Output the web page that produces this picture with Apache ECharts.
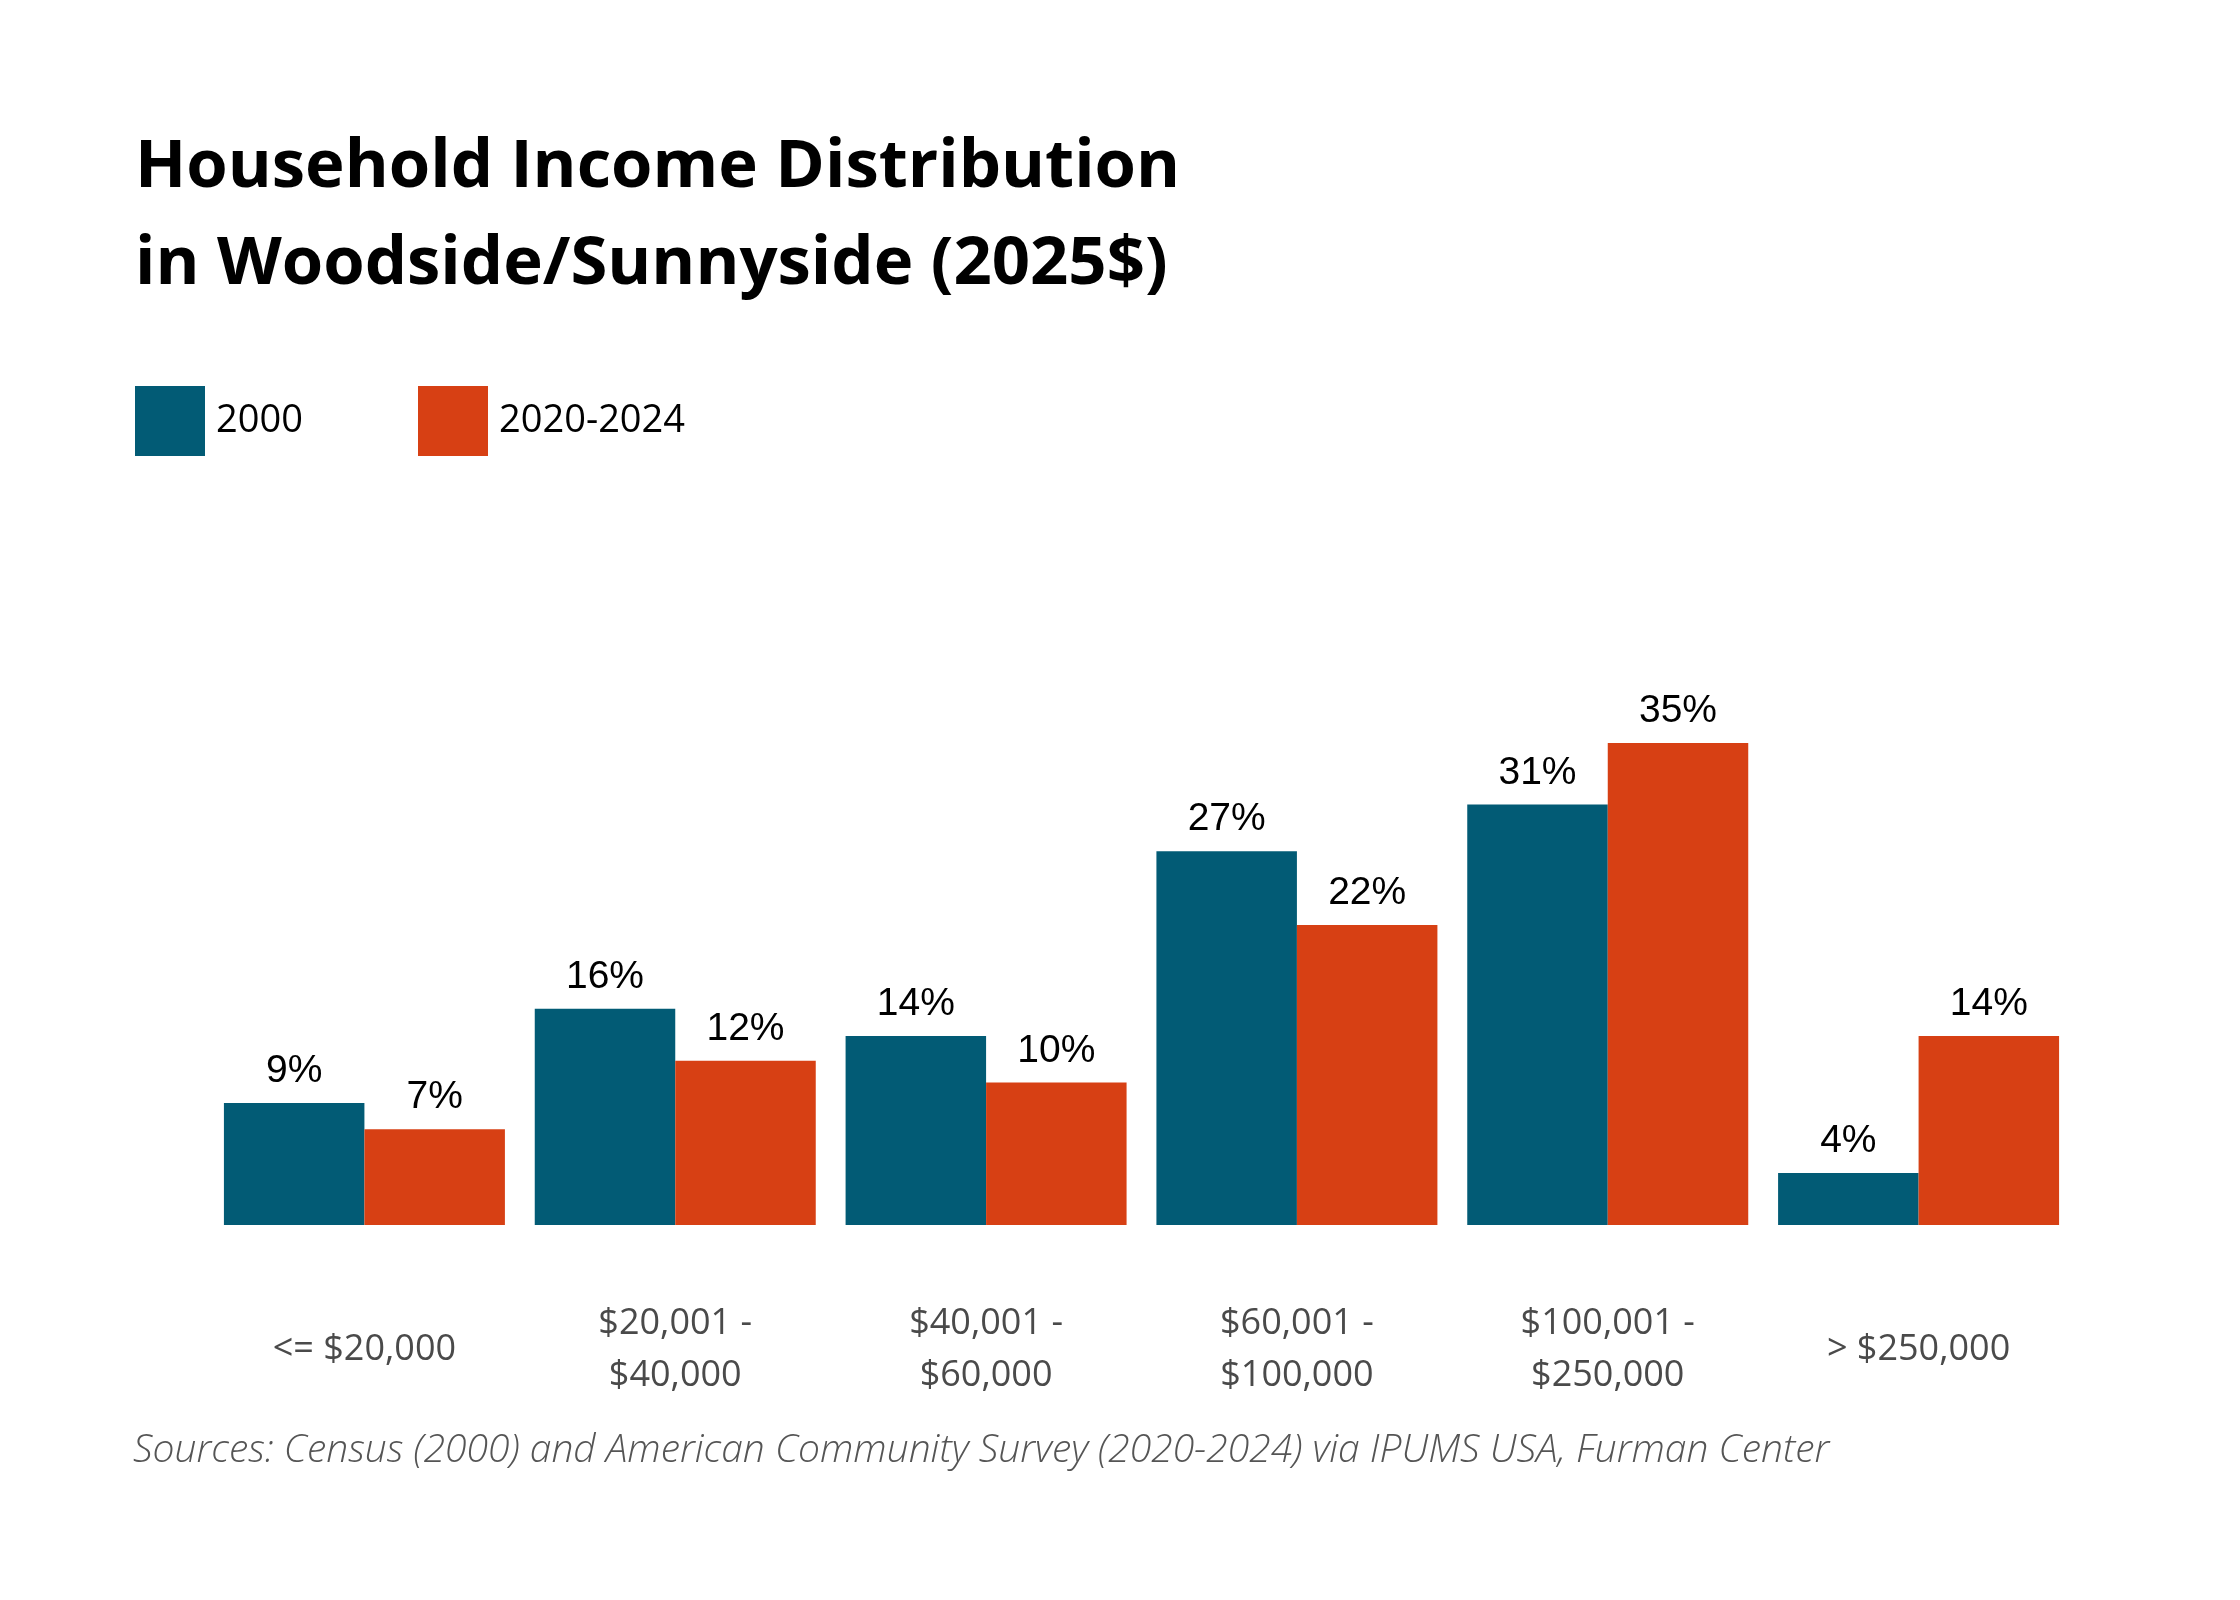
<!DOCTYPE html>
<html>
<head>
<meta charset="utf-8">
<title>Household Income Distribution in Woodside/Sunnyside</title>
<script src="https://cdn.jsdelivr.net/npm/echarts@6/dist/echarts.min.js"></script>
<style>
  html, body { margin: 0; padding: 0; background: #fff; }
  #chart { width: 2240px; height: 1600px; }
</style>
</head>
<body>
<div id="chart"></div>
<script>
// income brackets (x axis)
var categories = ['<= $20,000', '$20,001 -\n$40,000', '$40,001 -\n$60,000',
                  '$60,001 -\n$100,000', '$100,001 -\n$250,000', '> $250,000'];
// share of households, %
var values2000 = [8.9, 15.8, 13.8, 27.3, 30.7, 3.8];
var values2024 = [7.0, 12.0, 10.4, 21.9, 35.2, 13.8];
var seriesNames = ['2000', '2020-2024'];

var blue = '#025b75';
var orange = '#d74014';

var dom = document.getElementById('chart');
var myChart = echarts.init(dom);

var labelStyle = {
    show: true,
    position: 'top',
    distance: 12,
    fontFamily: 'Liberation Sans',
    fontSize: 39,
    color: '#000',
    formatter: function (p) { return Math.round(p.value) + '%'; }
};

var legendText = { fontFamily: 'Open Sans', fontSize: 38, color: '#000', padding: [0, 0, 0, 6] };

var option = {
    backgroundColor: '#fff',
    animation: false,
    title: {
        text: 'Household Income Distribution\nin Woodside/Sunnyside (2025$)',
        left: 130,
        top: 114,
        textStyle: {
            fontFamily: 'Open Sans',
            fontWeight: 'bold',
            fontSize: 67,
            lineHeight: 97,
            color: '#000'
        }
    },
    legend: [
        {
            data: [seriesNames[0]],
            left: 130, top: 381,
            icon: 'rect', itemWidth: 70, itemHeight: 70,
            textStyle: legendText
        },
        {
            data: [seriesNames[1]],
            left: 413, top: 381,
            icon: 'rect', itemWidth: 70, itemHeight: 70,
            textStyle: legendText
        }
    ],
    grid: { left: 209, right: 166, top: 732, bottom: 375 },
    xAxis: {
        type: 'category',
        data: categories,
        axisLine: { show: false },
        axisTick: { show: false },
        axisLabel: {
            margin: 125,
            verticalAlign: 'middle',
            fontFamily: 'Open Sans',
            fontSize: 36,
            lineHeight: 52,
            color: '#4a4a4a'
        }
    },
    yAxis: {
        type: 'value',
        min: 0,
        max: 36,
        show: false,
        splitLine: { show: false }
    },
    series: [
        {
            name: seriesNames[0],
            type: 'bar',
            data: values2000,
            barGap: '0%',
            barCategoryGap: '9.6%',
            itemStyle: { color: blue },
            label: labelStyle
        },
        {
            name: seriesNames[1],
            type: 'bar',
            data: values2024,
            itemStyle: { color: orange },
            label: labelStyle
        }
    ],
    graphic: [
        {
            type: 'text',
            left: 133,
            top: 1431,
            style: {
                text: 'Sources: Census (2000) and American Community Survey (2020-2024) via IPUMS USA, Furman Center',
                font: 'italic 300 39px "Open Sans"',
                fill: '#555'
            }
        }
    ]
};

myChart.setOption(option);
window.onresize = myChart.resize;
</script>
</body>
</html>
